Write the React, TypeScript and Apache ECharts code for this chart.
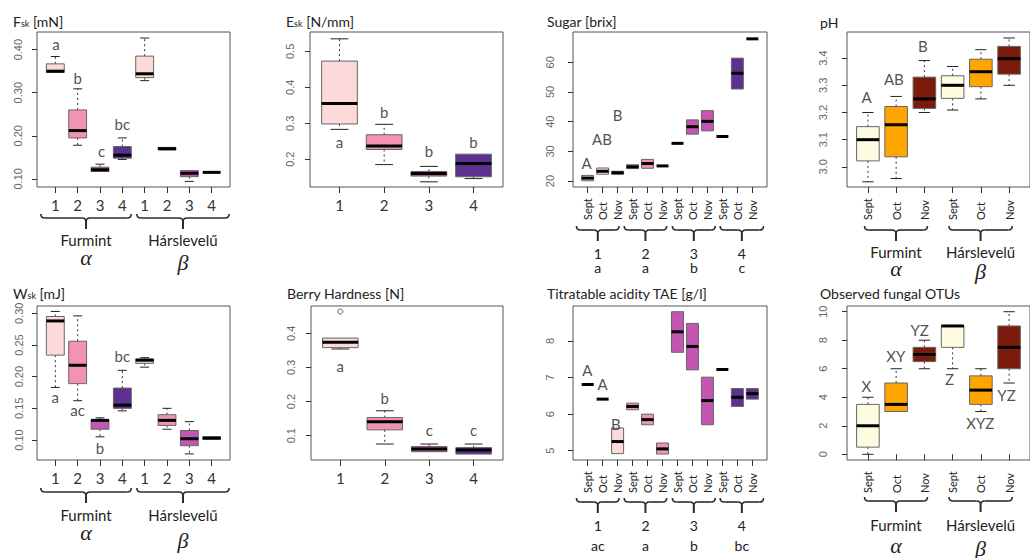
import React, { useEffect, useRef } from "react";
import * as echarts from "echarts";

// ---------------- data ----------------
const treatments = ["1", "2", "3", "4"];
const months = ["Sept", "Oct", "Nov"];
const cultivars = ["Furmint", "Hárslevelű"];
const greekLetters = ["α", "β"];
const sugarGroupLetters = ["a", "a", "b", "c"];
const taeGroupLetters = ["ac", "a", "b", "bc"];

// box statistics: [min, q1, median, q3, max]
const fskBoxes = [
  [0.345, 0.347, 0.35, 0.367, 0.384],
  [0.178, 0.195, 0.212, 0.26, 0.309],
  [0.115, 0.117, 0.121, 0.127, 0.134],
  [0.145, 0.148, 0.155, 0.175, 0.195],
  [0.328, 0.335, 0.344, 0.385, 0.427],
  [0.167, 0.167, 0.17, 0.173, 0.173],
  [0.094, 0.105, 0.113, 0.119, 0.121],
  [0.113, 0.114, 0.115, 0.116, 0.117],
];
const eskBoxes = [
  [0.283, 0.298, 0.355, 0.473, 0.535],
  [0.185, 0.227, 0.237, 0.268, 0.297],
  [0.137, 0.153, 0.16, 0.166, 0.18],
  [0.146, 0.151, 0.188, 0.214, 0.216],
];
const sugarBoxes = [
  [20.0, 20.1, 21.0, 21.9, 22.0],
  [22.2, 22.3, 23.3, 24.4, 24.5],
  [22.2, 22.3, 22.8, 23.3, 23.4],
  [24.1, 24.2, 24.8, 25.5, 25.6],
  [24.2, 24.3, 25.9, 27.3, 27.4],
  [25.0, 25.0, 25.1, 25.2, 25.2],
  [32.6, 32.6, 32.7, 32.8, 32.8],
  [35.7, 35.8, 38.3, 40.6, 40.7],
  [36.8, 36.9, 40.1, 43.7, 43.8],
  [34.9, 34.9, 35.0, 35.1, 35.1],
  [50.9, 51.0, 56.3, 61.4, 61.5],
  [67.8, 67.8, 67.9, 68.0, 68.0],
];
const phBoxes = [
  [2.945, 3.022, 3.1, 3.148, 3.2],
  [2.957, 3.037, 3.155, 3.222, 3.259],
  [3.2, 3.215, 3.25, 3.33, 3.391],
  [3.209, 3.252, 3.3, 3.335, 3.369],
  [3.25, 3.295, 3.35, 3.396, 3.431],
  [3.3, 3.341, 3.398, 3.443, 3.474],
];
const wskBoxes = [
  [0.183, 0.234, 0.288, 0.295, 0.303],
  [0.162, 0.189, 0.218, 0.256, 0.296],
  [0.105, 0.117, 0.131, 0.132, 0.135],
  [0.146, 0.15, 0.155, 0.182, 0.21],
  [0.215, 0.221, 0.226, 0.228, 0.23],
  [0.117, 0.123, 0.131, 0.14, 0.15],
  [0.078, 0.091, 0.102, 0.115, 0.129],
  [0.101, 0.101, 0.103, 0.105, 0.105],
];
const hardnessBoxes = [
  [0.354, 0.358, 0.374, 0.386, 0.386],
  [0.0755, 0.117, 0.141, 0.153, 0.173],
  [0.051, 0.053, 0.061, 0.068, 0.0755],
  [0.046, 0.046, 0.058, 0.065, 0.0755],
];
const hardnessOutliers = [[1, 0.464]];
const taeBoxes = [
  [6.81, 6.81, 6.81, 6.81, 6.81],
  [6.41, 6.41, 6.41, 6.41, 6.41],
  [4.92, 4.92, 5.25, 5.62, 5.62],
  [6.12, 6.12, 6.21, 6.3, 6.3],
  [5.71, 5.71, 5.85, 6.0, 6.0],
  [4.91, 4.91, 5.05, 5.21, 5.21],
  [7.69, 7.69, 8.25, 8.8, 8.8],
  [7.21, 7.21, 7.85, 8.48, 8.48],
  [5.71, 5.71, 6.37, 7.01, 7.01],
  [7.22, 7.22, 7.22, 7.22, 7.22],
  [6.21, 6.21, 6.46, 6.7, 6.7],
  [6.41, 6.41, 6.56, 6.7, 6.7],
];
const otuBoxes = [
  [0, 0.5, 2, 3.5, 4],
  [3, 3, 3.5, 5, 6],
  [6, 6.5, 7, 7.5, 8],
  [6, 7.5, 9, 9, 9],
  [3, 3.5, 4.5, 5.5, 6],
  [5, 6, 7.5, 9, 10],
];

// significance letters: [x, y, label]
const fskLetters = [[1.03, 0.412, "a"], [2, 0.335, "b"], [3.07, 0.1635, "c"], [4, 0.228, "bc"]];
const eskLetters = [[1, 0.249, "a"], [2, 0.332, "b"], [3, 0.2235, "b"], [4, 0.249, "b"]];
const sugarLetters = [[0.92, 26.0, "A"], [1.96, 34.1, "AB"], [3, 42.2, "B"]];
const phLetters = [[0.95, 3.258, "A"], [1.92, 3.324, "AB"], [2.95, 3.443, "B"]];
const wskLetters = [[1, 0.168, "a"], [2, 0.1472, "ac"], [3, 0.0867, "b"], [4, 0.2325, "bc"]];
const hardnessLetters = [[1, 0.304, "a"], [2, 0.209, "b"], [3, 0.1164, "c"], [4, 0.1164, "c"]];
const taeLetters = [[0.985, 7.21, "A"], [1.99, 6.82, "A"], [2.88, 5.72, "B"]];
const otuLetters = [[0.95, 4.78, "X"], [1.99, 6.89, "XY"], [2.83, 8.71, "YZ"], [3.89, 5.25, "Z"], [4.98, 2.16, "XYZ"], [5.91, 4.15, "YZ"]];

// y tick labels
const fskTicks = [0.1, 0.2, 0.3, 0.4];
const eskTicks = [0.2, 0.3, 0.4, 0.5];
const sugarTicks = [20, 30, 40, 50, 60];
const phTicks = [3.0, 3.1, 3.2, 3.3, 3.4];
const wskTicks = [0.1, 0.15, 0.2, 0.25, 0.3];
const hardnessTicks = [0.1, 0.2, 0.3, 0.4];
const taeTicks = [5, 6, 7, 8];
const otuTicks = [0, 2, 4, 6, 8, 10];

// ---------------- styles ----------------
const FONT = "Lato, 'Open Sans', sans-serif";
const AXFONT = "'Liberation Sans', Arial, sans-serif";
const treatColors = ["#FDDADA", "#F293B4", "#C455B2", "#5C3190"];
const monthColors = ["#FDFBE0", "#FFA500", "#7B1B0C"];

const pairBracesWide = [[0.35, 4.4], [4.65, 8.78]];
const pairBracesMonth = [[0.88, 3.11], [3.87, 6.11]];
const quadBraces = [[0.25, 3.1], [3.44, 6.28], [6.66, 9.52], [9.85, 12.75]];

type Panel = {
  left: number; top: number; width: number; height: number;
  xMin: number; xMax: number; xFmt: (v: number) => string; rot: boolean;
  yMin: number; yMax: number; yTicks: number[]; yDec: number; yMargin: number;
  boxes: number[][]; color: (i: number) => string; letters: any[];
};

const panels: Panel[] = [
  { left: 37, top: 32, width: 193, height: 155, xMin: 0.18, xMax: 8.82, xFmt: (v) => treatments[(v - 1) % 4], rot: false,
    yMin: 0.081, yMax: 0.441, yTicks: fskTicks, yDec: 2, yMargin: 14, boxes: fskBoxes, color: (i) => treatColors[i % 4], letters: fskLetters },
  { left: 310, top: 32, width: 193, height: 155, xMin: 0.34, xMax: 4.66, xFmt: (v) => treatments[(v - 1) % 4], rot: false,
    yMin: 0.1226, yMax: 0.554, yTicks: eskTicks, yDec: 1, yMargin: 15, boxes: eskBoxes, color: (i) => treatColors[i % 4], letters: eskLetters },
  { left: 573, top: 32, width: 194, height: 155, xMin: 0.02, xMax: 12.98, xFmt: (v) => months[(v - 1) % 3], rot: true,
    yMin: 18.0, yMax: 70.2, yTicks: sugarTicks, yDec: 0, yMargin: 18, boxes: sugarBoxes, color: (i) => treatColors[Math.floor(i / 3)], letters: sugarLetters },
  { left: 847, top: 32, width: 193, height: 155, xMin: 0.26, xMax: 6.74, xFmt: (v) => months[(v - 1) % 3], rot: true,
    yMin: 2.926, yMax: 3.496, yTicks: phTicks, yDec: 1, yMargin: 19, boxes: phBoxes, color: (i) => monthColors[i % 3], letters: phLetters },
  { left: 37, top: 306, width: 193, height: 154, xMin: 0.18, xMax: 8.82, xFmt: (v) => treatments[(v - 1) % 4], rot: false,
    yMin: 0.0684, yMax: 0.3116, yTicks: wskTicks, yDec: 2, yMargin: 13, boxes: wskBoxes, color: (i) => treatColors[i % 4], letters: wskLetters },
  { left: 311, top: 306, width: 192, height: 154, xMin: 0.34, xMax: 4.66, xFmt: (v) => treatments[(v - 1) % 4], rot: false,
    yMin: 0.0287, yMax: 0.48, yTicks: hardnessTicks, yDec: 1, yMargin: 15, boxes: hardnessBoxes, color: (i) => treatColors[i % 4], letters: hardnessLetters },
  { left: 573, top: 306, width: 194, height: 154, xMin: 0.02, xMax: 12.98, xFmt: (v) => months[(v - 1) % 3], rot: true,
    yMin: 4.746, yMax: 8.956, yTicks: taeTicks, yDec: 0, yMargin: 18, boxes: taeBoxes, color: (i) => treatColors[Math.floor(i / 3)], letters: taeLetters },
  { left: 847, top: 306, width: 193, height: 154, xMin: 0.26, xMax: 6.74, xFmt: (v) => months[(v - 1) % 3], rot: true,
    yMin: -0.4, yMax: 10.4, yTicks: otuTicks, yDec: 0, yMargin: 19, boxes: otuBoxes, color: (i) => monthColors[i % 3], letters: otuLetters },
];

function makeRender(color: (i: number) => string) {
  return (params: any, api: any) => {
    const x = api.value(0);
    const mn = api.coord([x, api.value(1)]);
    const q1 = api.coord([x, api.value(2)]);
    const md = api.coord([x, api.value(3)]);
    const q3 = api.coord([x, api.value(4)]);
    const mx = api.coord([x, api.value(5)]);
    const hw = api.size([0.4, 0])[0];
    const ch = hw / 2;
    const cx = md[0];
    const dash = { stroke: "#333", lineWidth: 1, lineDash: [2, 3], fill: null };
    const solid = { stroke: "#222", lineWidth: 1, fill: null };
    const children: any[] = [];
    if (q3[1] - mx[1] > 1) {
      children.push({ type: "line", shape: { x1: cx, y1: q3[1], x2: cx, y2: mx[1] }, style: dash });
      children.push({ type: "line", shape: { x1: cx - ch, y1: mx[1], x2: cx + ch, y2: mx[1] }, style: solid });
    }
    if (mn[1] - q1[1] > 1) {
      children.push({ type: "line", shape: { x1: cx, y1: q1[1], x2: cx, y2: mn[1] }, style: dash });
      children.push({ type: "line", shape: { x1: cx - ch, y1: mn[1], x2: cx + ch, y2: mn[1] }, style: solid });
    }
    const h = q1[1] - q3[1];
    if (h > 1.5) {
      children.push({ type: "rect", shape: { x: cx - hw, y: q3[1], width: 2 * hw, height: h },
        style: { fill: color(params.dataIndex), stroke: "#666", lineWidth: 1 } });
    }
    children.push({ type: "line", shape: { x1: cx - hw, y1: md[1], x2: cx + hw, y2: md[1] }, style: { stroke: "#000", lineWidth: 3 } });
    return { type: "group", children };
  };
}

function brace(x0: number, x1: number, y: number, tick: number) {
  const xm = (x0 + x1) / 2;
  const c = 4;
  const st = { stroke: "#2a2a2a", lineWidth: 1.6, fill: null };
  return [
    { type: "bezierCurve", shape: { x1: x0, y1: y - c, x2: x0 + c, y2: y, cpx1: x0, cpy1: y }, style: st },
    { type: "line", shape: { x1: x0 + c, y1: y, x2: xm - c, y2: y }, style: st },
    { type: "bezierCurve", shape: { x1: xm - c, y1: y, x2: xm, y2: y + c, cpx1: xm, cpy1: y }, style: st },
    { type: "bezierCurve", shape: { x1: xm + c, y1: y, x2: xm, y2: y + c, cpx1: xm, cpy1: y }, style: st },
    { type: "line", shape: { x1: xm + c, y1: y, x2: x1 - c, y2: y }, style: st },
    { type: "bezierCurve", shape: { x1: x1 - c, y1: y, x2: x1, y2: y - c, cpx1: x1, cpy1: y }, style: st },
    { type: "line", shape: { x1: xm, y1: y + c, x2: xm, y2: y + tick }, style: { stroke: "#2a2a2a", lineWidth: 2 } },
  ];
}

function txt(x: number, y: number, text: string, size: number, extra: any = {}) {
  return { type: "text", x, y, silent: true,
    style: { text, fontSize: size, fontFamily: FONT, fill: "#333", align: "center", verticalAlign: "middle", ...extra } };
}

function title(x: number, y: number, main: string, sub?: string, rest?: string) {
  const rich = {
    m: { fontSize: 14, fontFamily: FONT, fill: "#222", lineHeight: 20, verticalAlign: "bottom" },
    s: { fontSize: 9, fontFamily: FONT, fill: "#222", lineHeight: 8, verticalAlign: "bottom" },
  };
  const text = sub ? `{m|${main}}{s|${sub}}{m|${rest}}` : `{m|${main}}`;
  return { type: "text", x, y, silent: true, style: { text, rich, align: "left", verticalAlign: "middle" } };
}

export default function App() {
  const ref = useRef<HTMLDivElement>(null);
  useEffect(() => {
    if (!ref.current) return;
    const chart = echarts.init(ref.current, undefined, { renderer: "svg" });
    const grid: any[] = [];
    const xAxis: any[] = [];
    const yAxis: any[] = [];
    const series: any[] = [];
    panels.forEach((p, k) => {
      const xVals = p.boxes.map((_, i) => i + 1);
      grid.push({ left: p.left, top: p.top, width: p.width, height: p.height, show: true, borderColor: "#555", borderWidth: 1 });
      xAxis.push({
        gridIndex: k, type: "value", min: p.xMin, max: p.xMax,
        axisLine: { show: false }, splitLine: { show: false },
        axisTick: { show: true, length: 6, customValues: xVals, lineStyle: { color: "#333" } },
        axisLabel: p.rot
          ? { customValues: xVals, formatter: (v: number) => p.xFmt(Math.round(v)), rotate: 90, align: "left", verticalAlign: "middle",
              margin: 33, fontSize: 11, color: "#222", fontFamily: FONT }
          : { customValues: xVals, formatter: (v: number) => p.xFmt(Math.round(v)), margin: 10, fontSize: 15, color: "#333", fontFamily: FONT },
      });
      yAxis.push({
        gridIndex: k, type: "value", min: p.yMin, max: p.yMax,
        axisLine: { show: false }, splitLine: { show: false },
        axisTick: { show: true, length: 5, customValues: p.yTicks, lineStyle: { color: "#333" } },
        axisLabel: { customValues: p.yTicks, formatter: (v: number) => v.toFixed(p.yDec), rotate: 90, margin: p.yMargin,
          fontSize: 11, color: "#666", fontFamily: AXFONT },
      });
      series.push({
        type: "custom", xAxisIndex: k, yAxisIndex: k, silent: true, clip: false,
        renderItem: makeRender(p.color),
        encode: { x: 0, y: [1, 2, 3, 4, 5] },
        data: p.boxes.map((b, i) => [i + 1, ...b]),
      });
      series.push({
        type: "scatter", xAxisIndex: k, yAxisIndex: k, silent: true, symbolSize: 0,
        data: p.letters.map((l: any) => ({ value: [l[0], l[1]], name: l[2] })),
        label: { show: true, position: "inside", formatter: "{b}", color: "#222", fontSize: 15, fontFamily: FONT },
      });
    });
    series.push({
      type: "scatter", xAxisIndex: 5, yAxisIndex: 5, silent: true, symbol: "circle", symbolSize: 5,
      itemStyle: { color: "#fff", borderColor: "#333", borderWidth: 1 },
      data: hardnessOutliers,
    });

    chart.setOption({ animation: false, backgroundColor: "#fff", grid, xAxis, yAxis, series });

    const px = (k: number, v: number) => chart.convertToPixel({ xAxisIndex: k } as any, v) as number;
    const els: any[] = [
      title(13, 18, "F", "sk", " [mN]"),
      title(286, 18, "E", "sk", " [N/mm]"),
      title(547, 18, "Sugar [brix]"),
      title(820, 19, "pH"),
      title(13, 290, "W", "sk", " [mJ]"),
      title(287, 290, "Berry Hardness [N]"),
      title(547, 290, "Titratable acidity TAE [g/l]"),
      title(820, 290, "Observed fungal OTUs"),
    ];
    const cultivarBlock = (k: number, ranges: number[][], by: number, ny: number, gy: number[]) => {
      ranges.forEach((r, j) => {
        const a = px(k, r[0]);
        const b = px(k, r[1]);
        const m = (a + b) / 2;
        els.push(...brace(a, b, by, 11));
        els.push(txt(m, ny, cultivars[j], 15, { fill: "#222" }));
        els.push(txt(m, gy[j], greekLetters[j], 22, { fontFamily: "'Liberation Serif', 'DejaVu Serif', serif", fontStyle: "italic", fill: "#222" }));
      });
    };
    const groupBlock = (k: number, by: number, ny: number, ly: number, letters: string[]) => {
      quadBraces.forEach((r, j) => {
        const a = px(k, r[0]);
        const b = px(k, r[1]);
        const m = (a + b) / 2;
        els.push(...brace(a, b, by, 11));
        els.push(txt(m, ny, treatments[j], 14, { fill: "#222" }));
        els.push(txt(m, ly, letters[j], 14, { fill: "#222" }));
      });
    };
    cultivarBlock(0, pairBracesWide, 218, 240, [257, 262]);
    cultivarBlock(4, pairBracesWide, 492, 515, [532, 540]);
    cultivarBlock(3, pairBracesMonth, 230, 252, [268, 271]);
    cultivarBlock(7, pairBracesMonth, 501, 525, [545, 548]);
    groupBlock(2, 230, 253, 267, sugarGroupLetters);
    groupBlock(6, 502, 525, 545, taeGroupLetters);

    chart.setOption({ graphic: { elements: els } });
    return () => chart.dispose();
  }, []);
  return <div ref={ref} style={{ position: "absolute", left: 0, top: 0, width: 1030, height: 558 }} />;
}
